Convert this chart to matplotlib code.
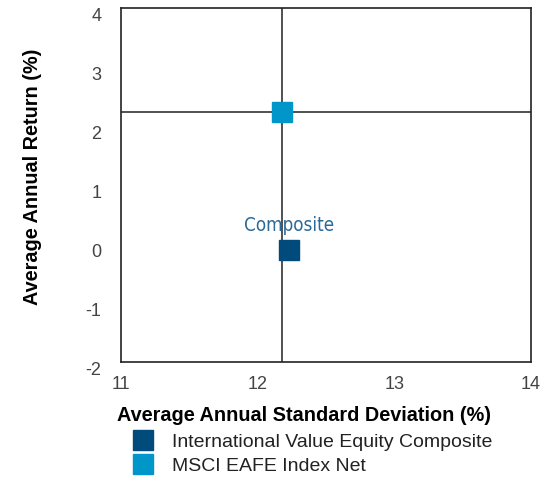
import matplotlib
matplotlib.use("Agg")
import matplotlib.pyplot as plt
import matplotlib.transforms as mtransforms
from matplotlib.lines import Line2D

# Datos del grafico riesgo / retorno
series = ["International Value Equity Composite", "MSCI EAFE Index Net"]
std_dev = [12.23, 12.18]
returns = [-0.10, 2.23]
colores = ["#004a7c", "#0096c9"]

x_ticks = [11, 12, 13, 14]
y_ticks = [-2, -1, 0, 1, 2, 3, 4]

fig = plt.figure(figsize=(5.44, 4.82), dpi=100)
ax = fig.add_axes([0.2224, 0.249, 0.7537, 0.7344])

# Lineas del benchmark (MSCI)
ax.axvline(std_dev[1], color="#222222", lw=1.1, zorder=1)
ax.axhline(returns[1], color="#222222", lw=1.1, zorder=1)

for x, y, c in zip(std_dev, returns, colores):
    ax.plot(x, y, marker="s", ms=14.5, color=c, mec=c, ls="none", zorder=3)

ax.annotate("Composite", (std_dev[0], returns[0]), xytext=(0, 11),
            textcoords="offset points", ha="center", va="bottom",
            fontsize=13.5, color="#2b6a99", family="DejaVu Sans",
            fontstretch="condensed")

ax.set_xlim(11, 14)
ax.set_ylim(-2, 4)
ax.set_xticks(x_ticks)
ax.set_yticks(y_ticks)
ax.set_xticklabels([str(t) for t in x_ticks])
ax.set_yticklabels([str(t) for t in y_ticks])
ax.tick_params(length=0, labelsize=13, labelcolor="#444444")
ax.tick_params(axis="x", pad=10)
ax.tick_params(axis="y", pad=14)
# las etiquetas del eje y estan un poco mas abajo
desplaza = mtransforms.ScaledTranslation(0, -5 / 72, fig.dpi_scale_trans)
for lab in ax.get_yticklabels():
    lab.set_transform(lab.get_transform() + desplaza)
for lab in ax.get_xticklabels() + ax.get_yticklabels():
    lab.set_family("Liberation Sans")
for s in ax.spines.values():
    s.set_color("#222222")
    s.set_linewidth(1.2)

fig.text(0.559, 0.139, "Average Annual Standard Deviation (%)", ha="center",
         va="center", fontsize=14.3, fontweight="bold", family="Liberation Sans")
fig.text(0.06, 0.633, "Average Annual Return (%)", ha="center", va="center",
         rotation=90, fontsize=14.3, fontweight="bold", family="Liberation Sans")

handles = [Line2D([], [], marker="s", ls="none", ms=14.5, color=c, mec=c) for c in colores]
fig.legend(handles, series, loc="center left", bbox_to_anchor=(0.227, 0.058),
           frameon=False, handletextpad=1.0, labelspacing=0.3,
           borderpad=0, handlelength=1.0, labelcolor="#222222",
           prop={"family": "Liberation Sans", "size": 14})

fig.savefig("out.png", dpi=100)
